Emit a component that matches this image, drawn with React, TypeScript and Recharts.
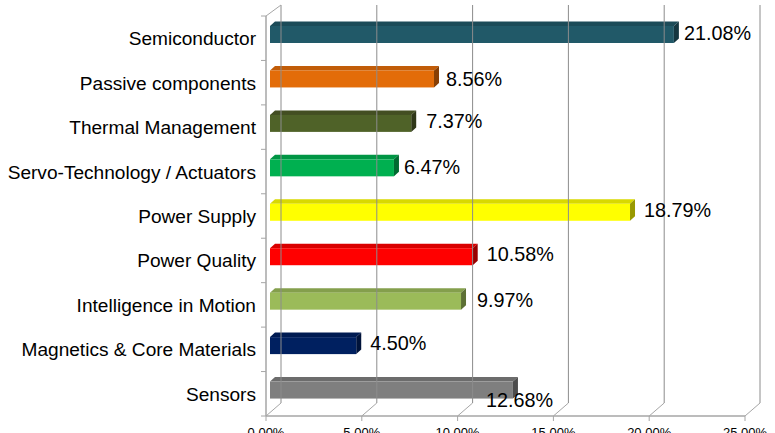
import { BarChart, Bar, XAxis, YAxis, LabelList } from 'recharts';

const categories = [
  'Semiconductor',
  'Passive components',
  'Thermal Management',
  'Servo-Technology / Actuators',
  'Power Supply',
  'Power Quality',
  'Intelligence in Motion',
  'Magnetics & Core Materials',
  'Sensors',
];
const shares = [21.08, 8.56, 7.37, 6.47, 18.79, 10.58, 9.97, 4.5, 12.68];
const frontColors = ['#215968', '#E36C09', '#4F6228', '#00B050', '#FFFF00', '#FF0000', '#9BBB59', '#002060', '#7F7F7F'];
const topColors = ['#1C4B58', '#C15C08', '#434E22', '#009544', '#D9D900', '#D90000', '#849F4C', '#001B52', '#6C6C6C'];
const sideColors = ['#143640', '#883F05', '#2F3718', '#006A30', '#999900', '#990000', '#5D7035', '#00133A', '#4C4C4C'];
const xTicks = [0, 5, 10, 15, 20, 25];

const rows = categories.map((name, i) => ({ name, share: shares[i] }));

const FONT = '"Liberation Sans", Arial, sans-serif';
const GRID = '#A6A6A6';
const BACK_GRID = '#8C8C8C';
// chart depth: the back wall sits up and to the right of the front axes
const WALL_X = 15;
const WALL_Y = 13;
// bars stand a little way into the floor
const BAR_X = 4;
const BAR_Y = 4;
const CAP_X = 5;
const CAP_Y = 4.5;
const BAND = 400 / 9;

// the labels were dragged around by hand in the original
const labelNudge: Record<string, [number, number]> = {
  Semiconductor: [5, -2],
  'Passive components': [7, 0],
  'Thermal Management': [10, -2],
  'Servo-Technology / Actuators': [5, -1],
  'Power Supply': [9, -2],
  'Power Quality': [9, -3],
  'Intelligence in Motion': [11, -1],
  'Magnetics & Core Materials': [9, -3],
  Sensors: [-32, 10],
};

function BarBlock(props: any) {
  const { x, y, width, height, index } = props;
  const l = x + BAR_X;
  const t = y - BAR_Y;
  const r = l + width;
  const b = t + height;
  return (
    <g>
      <polygon points={`${l},${t} ${l + CAP_X},${t - CAP_Y} ${r + CAP_X},${t - CAP_Y} ${r},${t}`} fill={topColors[index]} />
      <polygon points={`${r},${t} ${r + CAP_X},${t - CAP_Y} ${r + CAP_X},${b - CAP_Y} ${r},${b}`} fill={sideColors[index]} />
      <rect x={l} y={t} width={width} height={height} fill={frontColors[index]} />
    </g>
  );
}

function ValueTick(props: any) {
  const { x, y, payload } = props;
  return (
    <g>
      <line x1={x} y1={y} x2={x} y2={y + 5} stroke={GRID} />
      <line x1={x} y1={y} x2={x + WALL_X} y2={y - WALL_Y} stroke={GRID} />
      <line x1={x + WALL_X} y1={y - WALL_Y} x2={x + WALL_X} y2={5} stroke={BACK_GRID} />
      <text x={x} y={y + 21} textAnchor="middle" fontFamily={FONT} fontSize={13} fill="#000">
        {`${payload.value.toFixed(2)}%`}
      </text>
    </g>
  );
}

function CategoryTick(props: any) {
  const { x, y, payload, index } = props;
  return (
    <g>
      <line x1={x - 5} y1={y - BAND / 2} x2={x} y2={y - BAND / 2} stroke={GRID} />
      {index === categories.length - 1 && (
        <line x1={x - 5} y1={y + BAND / 2} x2={x} y2={y + BAND / 2} stroke={GRID} />
      )}
      {index === 0 && <line x1={x} y1={y - BAND / 2} x2={x + WALL_X} y2={y - BAND / 2 - 11} stroke={GRID} />}
      <text x={x - 10} y={y + 7} textAnchor="end" fontFamily={FONT} fontSize={19.1} fill="#000">
        {payload.value}
      </text>
    </g>
  );
}

function ValueLabel(props: any) {
  const { x, y, width, height, value, index } = props;
  const [dx, dy] = labelNudge[categories[index]];
  return (
    <text
      x={x + width + BAR_X + CAP_X + dx}
      y={y + height / 2 - BAR_Y + 7 + dy}
      fontFamily={FONT}
      fontSize={19.8}
      fill="#000"
    >
      {`${value.toFixed(2)}%`}
    </text>
  );
}

export default function App() {
  return (
    <div style={{ position: 'absolute', left: 0, top: 0, width: 775, height: 433, background: '#fff', overflow: 'hidden' }}>
      <BarChart
        width={775}
        height={433}
        data={rows}
        layout="vertical"
        margin={{ top: 16, right: 30, bottom: 0, left: 0 }}
      >
        <XAxis
          type="number"
          orientation="bottom"
          domain={[0, 25]}
          ticks={xTicks}
          height={17}
          interval={0}
          tickLine={false}
          tickSize={0}
          tickMargin={0}
          axisLine={{ stroke: GRID, strokeWidth: 1.5 }}
          tick={<ValueTick />}
        />
        <YAxis
          type="category"
          dataKey="name"
          width={266}
          interval={0}
          tickLine={false}
          tickSize={0}
          tickMargin={0}
          axisLine={{ stroke: GRID, strokeWidth: 1.5 }}
          tick={<CategoryTick />}
        />
        <Bar dataKey="share" barSize={17} isAnimationActive={false} shape={<BarBlock />}>
          <LabelList dataKey="share" content={<ValueLabel />} />
        </Bar>
      </BarChart>
    </div>
  );
}
